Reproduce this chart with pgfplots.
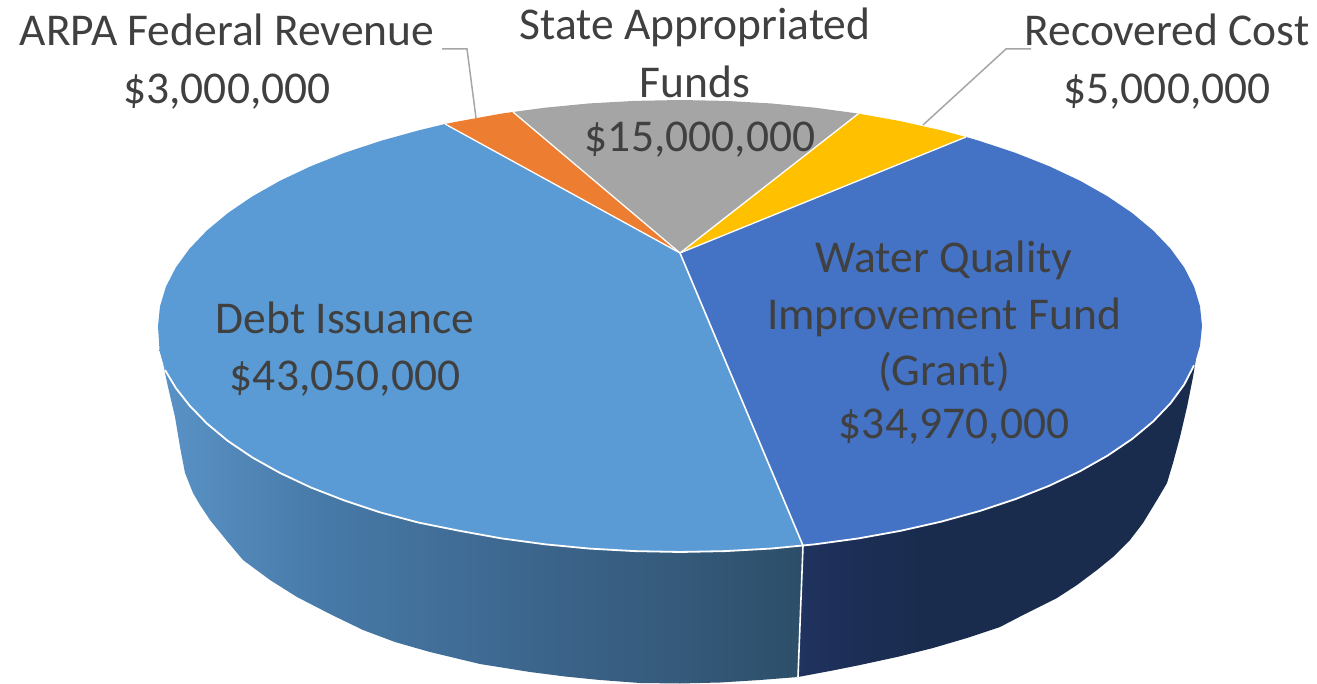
\documentclass[border=0pt]{standalone}
\usepackage{pgfplots}
\pgfplotsset{compat=1.18}
\usepackage{fontspec}
\setmainfont{Carlito}
\definecolor{cDebt}{HTML}{5B9BD5}
\definecolor{cWQ}{HTML}{4472C4}
\definecolor{cOr}{HTML}{ED7D31}
\definecolor{cGr}{HTML}{A5A5A5}
\definecolor{cYe}{HTML}{FFC000}
\definecolor{lbl}{HTML}{404040}
\definecolor{lead}{HTML}{A6A6A6}
\definecolor{d0}{HTML}{5B93C7}
\definecolor{d1}{HTML}{477AA8}
\definecolor{d2}{HTML}{3D678F}
\definecolor{d3}{HTML}{355A7B}
\definecolor{d4}{HTML}{2C4E68}
\definecolor{w0}{HTML}{20335F}
\definecolor{w1}{HTML}{1C2E55}
\definecolor{w2}{HTML}{1A2C4E}
\pgfdeclarehorizontalshading{debtside}{100bp}{color(0bp)=(d0); color(25bp)=(d0); color(37.5bp)=(d1); color(52.5bp)=(d2); color(65bp)=(d3); color(75bp)=(d4); color(100bp)=(d4)}
\pgfdeclarehorizontalshading{wqside}{100bp}{color(0bp)=(w0); color(25bp)=(w0); color(32.5bp)=(w1); color(40bp)=(w2); color(100bp)=(w2)}
\newcommand{\lab}[3]{\node[anchor=base,inner sep=0pt,text=lbl,font=\fontsize{45.5}{54}\selectfont] at (axis cs:#1,#2) {#3};}
\begin{document}
\begin{tikzpicture}
\path[use as bounding box] (0,0) rectangle (1317pt,684pt);
\begin{axis}[at={(0,0)},anchor=south west,width=1317pt,height=684pt,scale only axis,axis lines=none,
  xmin=0,xmax=1317,ymin=0,ymax=684,y dir=reverse,clip=true]
% side walls
\addplot[shading=debtside,draw=none] coordinates {
 (159.5,350)(165,370)(175.8,388)(189.5,405.5)(206.9,423.5)(227.9,441)(252.4,457.5)(280.1,473)(310.9,487.5)(344.5,500.5)(380.6,512.5)(419,522.7)(459.4,530.8)(501.5,538.4)(544.9,544.3)(589.4,548.6)(634.5,551.1)(680,552)(725.5,551.1)(770.6,548.6)(803,545.6)
 (798,677)(760,680)(720,682.5)(680,683.5)(640,683)(600,680)(565,676.5)(530,672)(480,664)(430,652)(395,642)(363,630)(330,614)(297,597)(270,580)(243,560)(227,541)(210,520)(200,505)(193,493)(185,473)(180,447)(175,417)(168,387)(165,373)(161,352)
} --cycle;
\addplot[shading=wqside,draw=none] coordinates {
 (803,545.6)(815.1,544.3)(858.5,538.4)(900.6,530.8)(941,521.7)(979.4,511.1)(1015.5,499.1)(1049.1,485.8)(1079.9,471.3)(1107.6,455.6)(1132.1,439)(1153.1,421.5)(1170.5,403.3)(1184.2,384.5)(1194.1,365.2)(1197,352)
 (1193,377)(1187,407)(1180,437)(1173,463)(1167,483)(1157,500)(1143,523)(1130,540)(1113,557)(1097,570)(1077,585)(1057,598)(1025,614)(1000,627)(967,638)(933,648)(897,657)(860,665)(830,671)(798,677)
} --cycle;
% top slices
\addplot[fill=cDebt,draw=none] coordinates {
 (680,253)(445,124)(419,130.3)(380.6,140.9)(344.5,152.9)(310.9,166.2)(280.1,180.7)(252.4,196.4)(227.9,213)(206.9,230.5)(189.5,248.7)(175.8,267.5)(165.9,286.8)(160,306.3)(158,326)(159.5,350)(165,370)(175.8,388)(189.5,405.5)(206.9,423.5)(227.9,441)(252.4,457.5)(280.1,473)(310.9,487.5)(344.5,500.5)(380.6,512.5)(419,522.7)(459.4,530.8)(501.5,538.4)(544.9,544.3)(589.4,548.6)(634.5,551.1)(680,552)(725.5,551.1)(770.6,548.6)(803,545.6)
} --cycle;
\addplot[fill=cWQ,draw=none] coordinates {
 (680,253)(803,545.6)(815.1,544.3)(858.5,538.4)(900.6,530.8)(941,521.7)(979.4,511.1)(1015.5,499.1)(1049.1,485.8)(1079.9,471.3)(1107.6,455.6)(1132.1,439)(1153.1,421.5)(1170.5,403.3)(1184.2,384.5)(1194.1,365.2)(1200,345.7)(1202,326)(1200,306.3)(1194.1,286.8)(1184.2,267.5)(1170.5,248.7)(1153.1,230.5)(1132.1,213)(1107.6,196.4)(1079.9,180.7)(1049.1,166.2)(1015.5,152.9)(979.4,140.9)(966,137)
} --cycle;
\addplot[fill=cYe,draw=none] coordinates {
 (680,253)(966,137)(941,130.3)(900.6,121.2)(858.5,113.6)
} --cycle;
\addplot[fill=cGr,draw=none] coordinates {
 (680,253)(858.5,113.6)(815.1,107.7)(770.6,103.4)(725.5,100.9)(680,100)(634.5,100.9)(589.4,103.4)(544.9,107.7)(513,112)
} --cycle;
\addplot[fill=cOr,draw=none] coordinates {
 (680,253)(513,112)(501.5,113.6)(459.4,121.2)(445,124)
} --cycle;
% white separators
\addplot[white,line width=1.3pt] coordinates {(445,124)(680,253)};
\addplot[white,line width=1.3pt] coordinates {(513,112)(680,253)};
\addplot[white,line width=1.3pt] coordinates {(858.5,113.6)(680,253)};
\addplot[white,line width=1.3pt] coordinates {(966,137)(680,253)};
\addplot[white,line width=1.6pt] coordinates {(680,253)(803,545.6)(798,677)};
\addplot[white,line width=1.8pt] coordinates {
 (165,370)(175.8,388)(189.5,405.5)(206.9,423.5)(227.9,441)(252.4,457.5)(280.1,473)(310.9,487.5)(344.5,500.5)(380.6,512.5)(419,522.7)(459.4,530.8)(501.5,538.4)(544.9,544.3)(589.4,548.6)(634.5,551.1)(680,552)(725.5,551.1)(770.6,548.6)(815.1,544.3)(858.5,538.4)(900.6,530.8)(941,521.7)(979.4,511.1)(1015.5,499.1)(1049.1,485.8)(1079.9,471.3)(1107.6,455.6)(1132.1,439)(1153.1,421.5)(1170.5,403.3)(1184.2,384.5)(1194.1,365.2)
};
% leader lines
\addplot[lead,line width=1.5pt] coordinates {(442,49)(467,49)(476,118)};
\addplot[lead,line width=1.5pt] coordinates {(1031,49)(1006,49)(923,125)};
% labels
\lab{227}{45.5}{ARPA Federal Revenue}
\lab{227}{103.5}{\$3,000,000}
\lab{695}{40}{State Appropriated}
\lab{695}{98}{Funds}
\lab{700}{151.5}{\$15,000,000}
\lab{1167}{45.5}{Recovered Cost}
\lab{1167}{103.5}{\$5,000,000}
\lab{345}{333.5}{Debt Issuance}
\lab{345}{390.5}{\$43,050,000}
\lab{944}{272.5}{Water Quality}
\lab{944}{329.5}{Improvement Fund}
\lab{944}{385.5}{(Grant)}
\lab{954}{438.5}{\$34,970,000}
\end{axis}
\end{tikzpicture}
\end{document}
